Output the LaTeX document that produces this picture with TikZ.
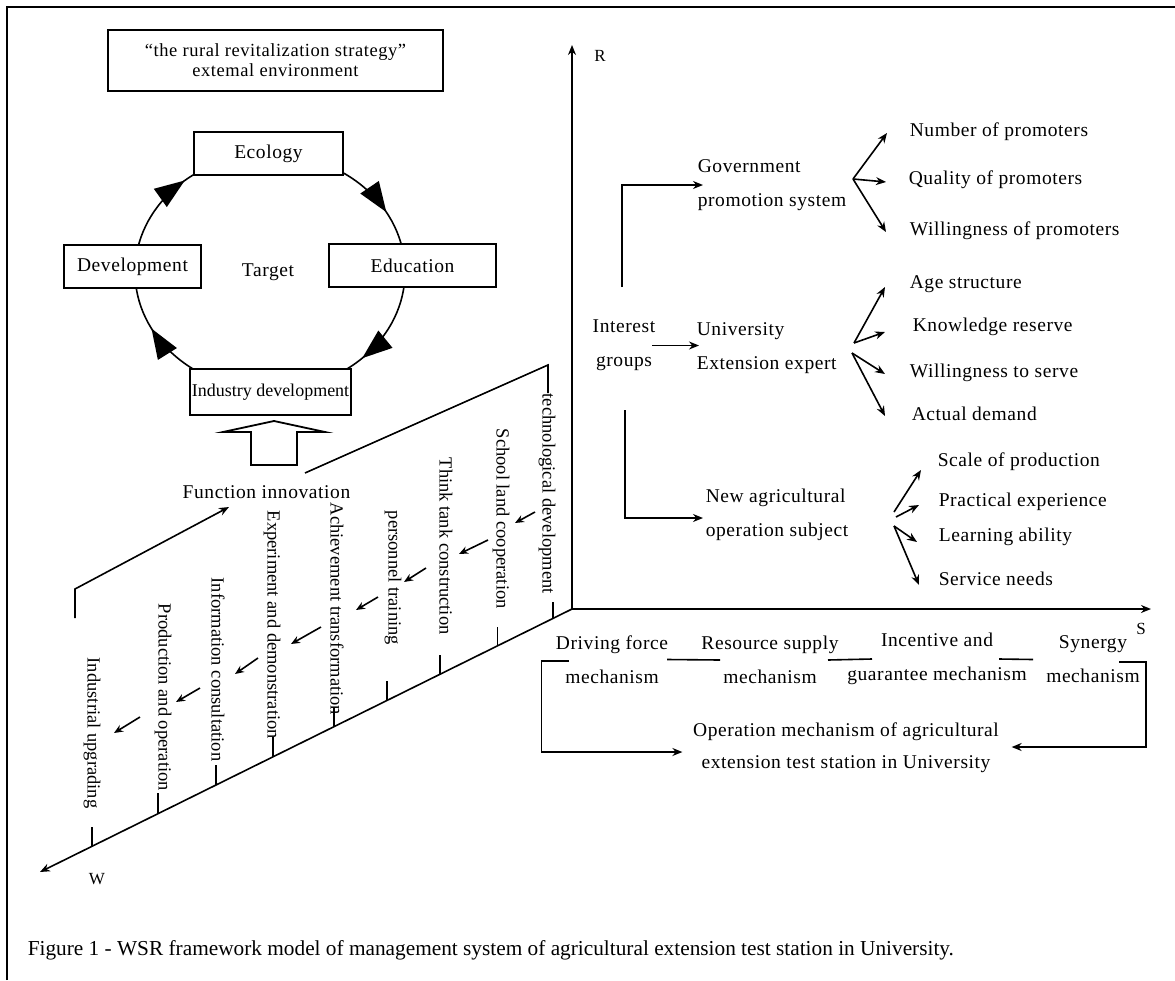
\documentclass[tikz,border=0pt]{standalone}
\usepackage{fontspec}
\setmainfont{Liberation Serif}
\newfontfamily\lsfont[LetterSpace=3]{Liberation Serif}
\usetikzlibrary{arrows.meta,decorations.markings,calc}
\begin{document}
\begin{tikzpicture}[x=1pt,y=-1pt,line width=1.6pt,
  lbl/.style={inner sep=0pt,font=\lsfont\fontsize{19.5}{34}\selectfont},
  vlbl/.style={inner sep=0pt,rotate=-90,anchor=west,font=\fontsize{18.5}{20}\selectfont},
  box/.style={draw,line width=1.8pt,fill=white,inner sep=0pt},
  arr/.style={-{Stealth[length=10pt,width=8pt]}},
  sarr/.style={-{Stealth[length=9pt,width=7.5pt]}},
  axlbl/.style={inner sep=0pt,font=\fontsize{17}{19}\selectfont},
  bigtri/.tip={Triangle[length=30pt,width=22pt]}]
\useasboundingbox (0,0) rectangle (1175,980);
% frame
\draw[line width=1.8pt] (7,980) -- (7,7) -- (1175,7);

% ---- target cycle ----
\coordinate (cc) at (270,272);
\draw[decoration={markings,
   mark=at position 0.125 with {\arrow{bigtri}},
   mark=at position 0.425 with {\arrow{bigtri}},
   mark=at position 0.636 with {\arrow{bigtri}},
   mark=at position 0.920 with {\arrow{bigtri}}},postaction=decorate]
   (cc) ellipse [x radius=135, y radius=118];

\node[box,minimum width=335pt,minimum height=61pt,align=center,
      font=\lsfont\fontsize{18.5}{20}\selectfont] (env) at (275.5,60.5)
      {“the rural revitalization strategy”\\extemal environment};
\node[box,lbl,minimum width=149pt,minimum height=43pt] (eco) at (268.5,153.5) {Ecology};
\node[box,lbl,minimum width=137pt,minimum height=43pt] (dev) at (132.5,266.5) {Development};
\node[box,lbl,minimum width=167pt,minimum height=43pt] (edu) at (412.5,265.5) {Education};
\node[box,minimum width=161pt,minimum height=46pt,font=\fontsize{18}{20}\selectfont] (ind) at (270.5,392) {Industry development};
\node[lbl] (tgt) at (268,272) {Target};

% hollow arrow
\draw[line width=1.8pt] (274,421) -- (325,432) -- (297,432) -- (297,465)
   -- (251,465) -- (251,432) -- (223,432) -- cycle;

\node[lbl] (fi) at (266.5,492) {Function innovation};
\coordinate (fiR) at (305,473);
\coordinate (techtop) at (548,365);
\draw (fiR) -- (techtop) -- (548,393);
\coordinate (iuTop) at (75,618);
\draw[arr] (iuTop) -- (75,589) -- (229,507);

% ---- axes ----
\coordinate (O) at (572,609);
\draw[arr] (O) -- (572,45) coordinate (Rtip);
\draw[arr] (O) -- (1151,609) coordinate (Stip);
\draw[arr] (O) -- (40,872) coordinate (Wtip);
\node[axlbl] (R) at (600,56) {R};
\node[axlbl] (S) at (1141,629) {S};
\node[axlbl] (W) at (97,879) {W};

% ticks on W axis
\foreach \x/\t in {553/602,497.5/627,440/655,387/681,334/707,273/737,216/765,158/793,92/827}
  \draw (\x,{609+(572-\x)*0.4944}) -- (\x,\t);

% rotated labels
\node[vlbl] (tech) at (547,393) {technological development};
\node[vlbl] (school) at (501,428) {School land cooperation};
\node[vlbl] (think) at (446,457) {Think tank construction};
\node[vlbl] (pers) at (393,510) {personnel training};
\node[vlbl] (achv) at (337,502) {Achievement transformation};
\node[vlbl] (expt) at (272,510) {Experiment and demonstration};
\node[vlbl] (info) at (218,577) {Information consultation};
\node[vlbl] (prod) at (163,603) {Production and operation};
\node[vlbl] (indu) at (92,657) {Industrial upgrading};

% small arrows between labels
\draw[sarr] (535,512) -- (515,523);
\draw[sarr] (488,540) -- (459,554);
\draw[sarr] (426,568) -- (404,582);
\draw[sarr] (378,597) -- (356,610);
\draw[sarr] (321,627) -- (291,644);
\draw[sarr] (258,658) -- (235,674);
\draw[sarr] (200,688) -- (176,702);
\draw[sarr] (140,717) -- (114,733);

% ---- R dimension ----
\node[lbl,align=center] (ig) at (624,345.5) {Interest\\groups};
\node[lbl,anchor=west,align=left] (gov) at (697,185) {Government\\promotion system};
\node[lbl,anchor=west,align=left] (univ) at (696,348.5) {University\\Extension expert};
\node[lbl,anchor=west,align=left] (nao) at (705,515) {New agricultural\\operation subject};

\coordinate (igUp) at (622,287);
\coordinate (igDn) at (625,410);
\draw[arr] (igUp) |- ($(gov.west)+(6,0)$);
\draw[arr] ($(ig.east)+(-4,0)$) -- ($(ig.east -| univ.west)+(3,0)$);
\draw[arr] (igDn) |- ($(nao.west)+(-2,3)$);

\node[lbl,anchor=west] (g1) at (909,132) {Number of promoters};
\node[lbl,anchor=west] (g2) at (908,180) {Quality of promoters};
\node[lbl,anchor=west] (g3) at (909,231) {Willingness of promoters};
\coordinate (gb) at (853,179);
\draw[arr] (gb) -- ($(g1.west)+(-22,1)$);
\draw[arr] (gb) -- ($(g2.west)+(-22,2)$);
\draw[arr] (gb) -- ($(g3.west)+(-23,1)$);

\node[lbl,anchor=west] (u1) at (909,284) {Age structure};
\node[lbl,anchor=west] (u2) at (912,327) {Knowledge reserve};
\node[lbl,anchor=west] (u3) at (909,373) {Willingness to serve};
\node[lbl,anchor=west] (u4) at (911,414) {Actual demand};
\coordinate (ub1) at (854,343);
\coordinate (ub2) at (852,353);
\draw[arr] (ub1) -- ($(u1.west)+(-24,3)$);
\draw[arr] (ub1) -- ($(u2.west)+(-27,5)$);
\draw[arr] (ub2) -- ($(u3.west)+(-24,1)$);
\draw[arr] (ub2) -- ($(u4.west)+(-26,2)$);

\node[lbl,anchor=west] (n1) at (937,462) {Scale of production};
\node[lbl,anchor=west] (n2) at (938,502) {Practical experience};
\node[lbl,anchor=west] (n3) at (938,537) {Learning ability};
\node[lbl,anchor=west] (n4) at (938,579) {Service needs};
\coordinate (nb1) at (894,512);
\coordinate (nb2) at (894,526);
\draw[arr] (nb1) -- ($(n1.west)+(-16,8)$);
\draw[arr] ($(nb1)+(2,5)$) -- ($(n2.west)+(-19,3)$);
\draw[arr] (nb2) -- ($(n3.west)+(-21,5)$);
\draw[arr] (nb2) -- ($(n4.west)+(-19,6)$);

% ---- S dimension ----
\node[lbl,align=center] (drive) at (612,659.5) {Driving force\\mechanism};
\node[lbl,align=center] (res) at (770,660) {Resource supply\\mechanism};
\node[lbl,align=center] (inc) at (937,659) {Incentive and\\guarantee mechanism};
\node[lbl,align=center] (syn) at (1093,659.5) {Synergy\\mechanism};
\draw ($(drive.center)+(55,0)$) -- ($(res.center)+(-50,0)$);
\draw ($(res.center)+(58,0)$) -- ($(inc.center)+(-65,0)$);
\draw ($(inc.center)+(62,0)$) -- ($(syn.center)+(-60,0)$);

\node[lbl,align=center,font=\lsfont\fontsize{19.5}{32}\selectfont] (op) at (846,748)
   {Operation mechanism of agricultural\\extension test station in University};
\draw[arr] ($(drive.center)+(-43,1.5)$) -- (541.5,661) |- ($(op.west)+(-10,4)$);
\draw[arr] ($(syn.center)+(26,2.5)$) -- (1146,662) |- ($(op.east)+(12,-1)$);

% caption
\node[anchor=west,inner sep=0pt,font=\fontsize{21.3}{24}\selectfont] (cap) at (27,950)
  {Figure 1 - WSR framework model of management system of agricultural extension test station in University.};
\end{tikzpicture}
\end{document}
